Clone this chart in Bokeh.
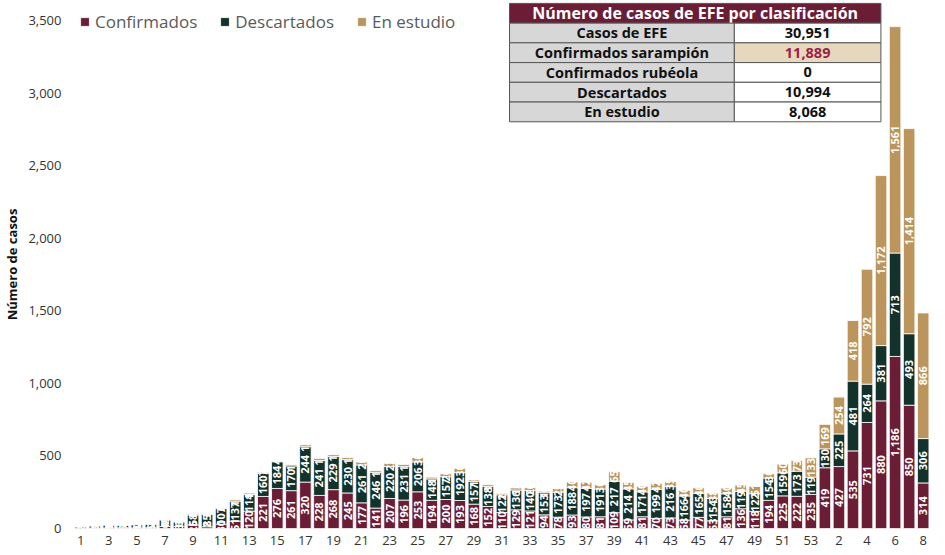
from bokeh.plotting import figure
from bokeh.models import ColumnDataSource, Range1d, FixedTicker, NumeralTickFormatter
from bokeh.core.properties import value
from bokeh.embed import file_html
from bokeh.resources import INLINE
from math import pi

# ---------------- data ----------------
week_labels = [str(i) for i in range(1, 54)] + [str(i) for i in range(1, 9)]
tick_labels = [str(i) for i in range(1, 54, 2)] + ["2", "4", "6", "8"]

confirmados = [2, 3, 4, 5, 4, 6, 14, 16, 25, 12, 30, 51, 120, 221, 276, 261, 320, 228, 268, 245,
               177, 141, 207, 196, 253, 194, 200, 193, 168, 152, 110, 129, 121, 94, 78, 93, 80, 81, 109, 59,
               81, 70, 73, 58, 77, 53, 81, 136, 118, 194, 225, 222, 235,
               419, 427, 535, 731, 880, 1186, 850, 314]
descartados = [10, 15, 20, 18, 22, 24, 45, 30, 68, 85, 107, 137, 114, 160, 184, 170, 244, 241, 229, 230,
               261, 246, 220, 231, 206, 148, 157, 192, 157, 138, 122, 136, 140, 153, 173, 188, 197, 191, 217, 214,
               171, 199, 216, 166, 165, 154, 158, 119, 122, 154, 159, 173, 119,
               130, 225, 481, 264, 381, 713, 493, 306]
en_estudio = [1, 1, 2, 1, 2, 2, 4, 3, 8, 5, 6, 10, 10, 7, 4, 10, 13, 15, 12, 14,
              20, 12, 22, 15, 30, 12, 20, 30, 10, 12, 10, 15, 20, 10, 25, 40, 42, 30, 65, 45,
              40, 42, 35, 40, 40, 38, 40, 45, 51, 30, 60, 73, 133,
              169, 254, 418, 792, 1172, 1561, 1414, 866]

series_names = ["Confirmados", "Descartados", "En estudio"]
series_colors = ["#6b1d35", "#12322b", "#bc955c"]

table_title = "Número de casos de EFE por clasificación"
table_labels = ["Casos de EFE", "Confirmados sarampión", "Confirmados rubéola", "Descartados", "En estudio"]
table_values = ["30,951", "11,889", "0", "10,994", "8,068"]

# ---------------- figure ----------------
xs = list(range(1, len(week_labels) + 1))
src = ColumnDataSource(dict(x=xs, conf=confirmados, desc=descartados, est=en_estudio))

p = figure(width=929, height=547, output_backend="svg", toolbar_location=None,
           x_range=Range1d(0.2, 61.45), y_range=Range1d(0, 3640),
           min_border_top=0, min_border_right=0, min_border_bottom=0, min_border_left=0)
p.outline_line_color = None
p.grid.grid_line_color = None
p.background_fill_color = "white"

renderers = p.vbar_stack(["conf", "desc", "est"], x="x", width=0.82, color=series_colors,
                         line_color="white", line_width=0.8, source=src,
                         legend_label=series_names)

# segment labels
lx, ly, lt = [], [], []
for i, x in enumerate(xs):
    base = 0
    for v in (confirmados[i], descartados[i], en_estudio[i]):
        if v > 0:
            lx.append(x)
            ly.append(base + v / 2)
            lt.append(f"{v:,}")
        base += v
p.text(x=lx, y=ly, text=lt, angle=pi / 2, text_align="center", text_baseline="middle",
       text_color="white", text_font=value("Open Sans"), text_font_style="bold",
       text_font_size="11px")

# axes
tick_pos = [x for x, w in zip(xs, week_labels)
            if (x <= 53 and x % 2 == 1) or (x > 53 and int(w) % 2 == 0)]
p.xaxis.ticker = FixedTicker(ticks=tick_pos)
p.xaxis.major_label_overrides = {x: t for x, t in zip(tick_pos, tick_labels)}
p.yaxis.ticker = FixedTicker(ticks=[0, 500, 1000, 1500, 2000, 2500, 3000, 3500])
p.yaxis.formatter = NumeralTickFormatter(format="0,0")
for ax in (p.xaxis[0], p.yaxis[0]):
    ax.axis_line_color = None
    ax.major_tick_line_color = None
    ax.minor_tick_line_color = None
    ax.major_tick_out = 0
    ax.major_tick_in = 0
    ax.major_label_text_font = "Open Sans"
    ax.major_label_text_font_size = "13px"
    ax.major_label_text_color = "#333333"
p.xaxis.major_label_standoff = 7
p.yaxis.major_label_standoff = 8
p.yaxis.axis_label = "Número de casos"
p.yaxis.axis_label_text_font = "Open Sans"
p.yaxis.axis_label_text_font_style = "bold"
p.yaxis.axis_label_text_font_size = "13px"
p.yaxis.axis_label_text_color = "#111111"
p.yaxis.axis_label_standoff = 4

# legend
lg = p.legend[0]
lg.location = "top_left"
lg.orientation = "horizontal"
lg.background_fill_alpha = 0
lg.border_line_color = None
lg.label_text_font = "Open Sans"
lg.label_text_font_size = "17px"
lg.label_text_color = "#5a5a5a"
lg.glyph_width = 11
lg.glyph_height = 11
lg.label_standoff = 5
lg.spacing = 22
lg.margin = 10
lg.padding = 3

# table (annotation in data coords)
c0, c1, c2 = 31.54, 47.55, 57.99
top, rh = 3620, 136
p.quad(left=[c0], right=[c2], top=[top], bottom=[top - rh], fill_color="#6b1d35",
       line_color="#555555", line_width=1)
p.text(x=[(c0 + c2) / 2], y=[top - rh / 2], text=[table_title], text_align="center",
       text_baseline="middle", text_color="white", text_font=value("Open Sans"),
       text_font_style="bold", text_font_size="16px")
n = len(table_labels)
tops = [top - rh * (i + 1) for i in range(n)]
bots = [t - rh for t in tops]
p.quad(left=[c0] * n, right=[c1] * n, top=tops, bottom=bots, fill_color="#d7d7d7",
       line_color="#555555", line_width=1)
val_fill = ["white", "#e6d8bd", "white", "white", "white"]
val_col = ["#111111", "#9b2247", "#111111", "#111111", "#111111"]
p.quad(left=[c1] * n, right=[c2] * n, top=tops, bottom=bots, fill_color=val_fill,
       line_color="#555555", line_width=1)
mids = [t - rh / 2 for t in tops]
p.text(x=[(c0 + c1) / 2] * n, y=mids, text=table_labels, text_align="center",
       text_baseline="middle", text_color="#111111", text_font=value("Open Sans"),
       text_font_style="bold", text_font_size="14.5px")
p.text(x=[(c1 + c2) / 2] * n, y=mids, text=table_values, text_align="center",
       text_baseline="middle", text_color=val_col, text_font=value("Open Sans"),
       text_font_style="bold", text_font_size="14.5px")

open("out.html", "w").write(file_html(p, INLINE))
